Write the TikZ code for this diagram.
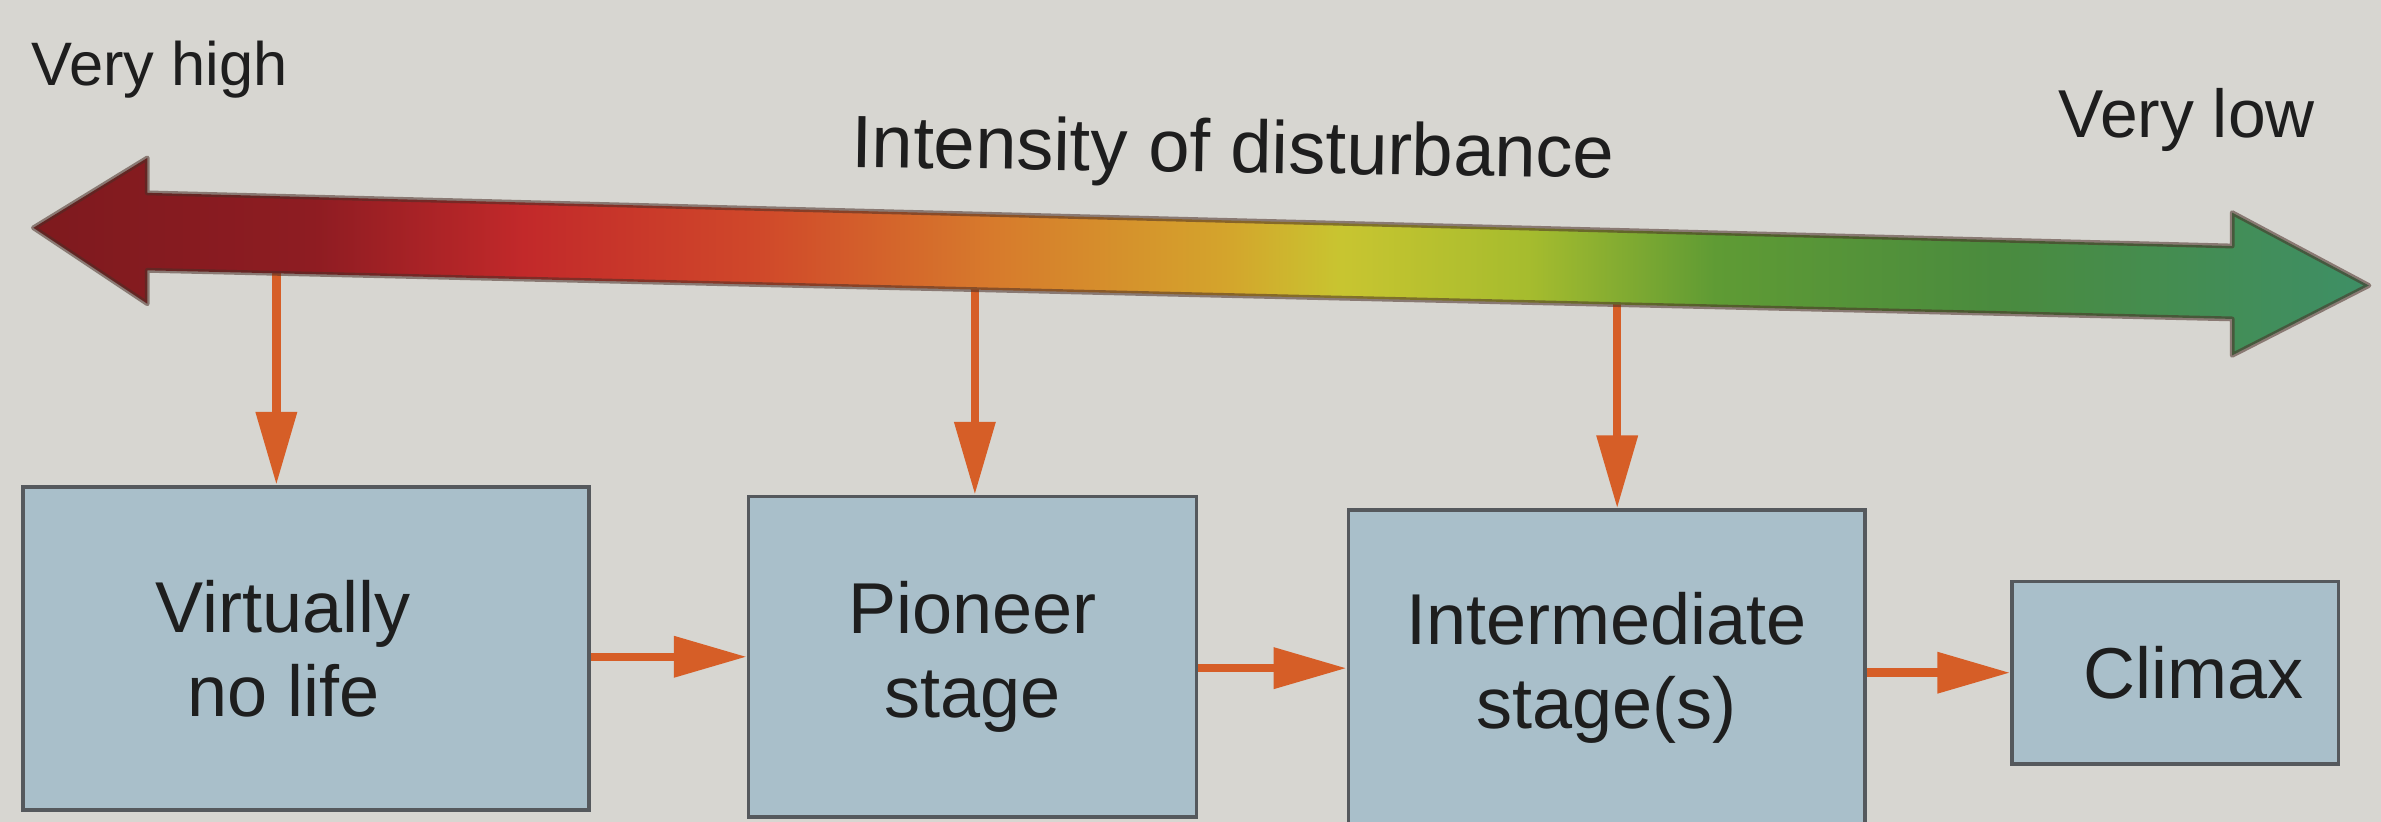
\documentclass[tikz,border=0pt]{standalone}
\usepackage{fontspec}
\setmainfont{Liberation Sans}
\usetikzlibrary{arrows.meta}

\definecolor{paper}{HTML}{D7D6D1}
\definecolor{boxfill}{HTML}{A9BFCA}
\definecolor{boxline}{HTML}{55595D}
\definecolor{link}{HTML}{D65E27}
\definecolor{ink}{HTML}{1E1E1E}
\definecolor{edge}{HTML}{4A2E26}

% colour stops of the disturbance scale (high -> low)
\definecolor{g0}{HTML}{7E1A1E}
\definecolor{g1}{HTML}{8E1C22}
\definecolor{g2}{HTML}{C2292A}
\definecolor{g3}{HTML}{D0482A}
\definecolor{g4}{HTML}{D77A2C}
\definecolor{g5}{HTML}{D4A42C}
\definecolor{g6}{HTML}{C8C530}
\definecolor{g7}{HTML}{A6BC2E}
\definecolor{g8}{HTML}{5F9B34}
\definecolor{g9}{HTML}{4A8B3E}
\definecolor{g10}{HTML}{3E8F66}

% the path's bounding box spans 25bp..75bp of the shading
\pgfdeclarehorizontalshading{disturbance}{100bp}{%
  color(0bp)=(g0); color(25bp)=(g0); color(31bp)=(g1); color(35.5bp)=(g2);
  color(40.5bp)=(g3); color(45.5bp)=(g4); color(50.5bp)=(g5); color(53bp)=(g6);
  color(57bp)=(g7); color(61bp)=(g8); color(67bp)=(g9); color(75bp)=(g10);
  color(100bp)=(g10)}

\tikzset{
  stagebox/.style={draw=boxline, line width=0.7pt, fill=boxfill, text=ink,
    align=center, inner sep=0pt,
    font=\fontsize{13.5}{15.8}\selectfont},
  conn/.style={draw=link, line width=1.6pt,
    -{Triangle[length=4.8mm, width=2.6mm]}},
  scaletext/.style={text=ink, inner sep=0pt}
}

\begin{document}
\begin{tikzpicture}[x=0.1mm, y=-0.1mm]
  % page
  \fill[paper] (0,0) rectangle (1568,541);
  \useasboundingbox (0,0) rectangle (1568,541);

  % labels of the scale
  \node[scaletext, font=\fontsize{11.5}{13}\selectfont] (high) at (105,46) {Very high};
  \node[scaletext, font=\fontsize{12.7}{14}\selectfont] (low) at (1440,79) {Very low};
  \node[scaletext, font=\fontsize{13.9}{16}\selectfont, rotate=-0.8] (title) at (812,101)
    {Intensity of disturbance};

  % succession stages
  \node[stagebox, minimum width=37.3mm, minimum height=21.3mm] (b1) at (201.5,427)
    {\hspace*{-3mm}Virtually\\\hspace*{-3mm}no life};
  \node[stagebox, minimum width=29.5mm, minimum height=21.1mm] (b2) at (640.5,432.5)
    {Pioneer\\stage};
  \node[stagebox, minimum width=34.0mm, minimum height=20.8mm] (b3) at (1058,440)
    {Intermediate\\stage(s)};
  \node[stagebox, minimum width=21.5mm, minimum height=12.0mm] (b4) at (1432.5,443)
    {\hspace*{2.4mm}Climax};

  % points on the underside of the scale arrow
  \coordinate (d1) at (182,178);
  \coordinate (d2) at (642,188);
  \coordinate (d3) at (1065,198);

  % from the scale down to each stage
  \draw[conn] (d1) -- (d1 |- b1.north);
  \draw[conn] (d2) -- (d2 |- b2.north);
  \draw[conn] (d3) -- (d3 |- b3.north);

  % stage to stage
  \draw[conn] (b1.east |- b2.west) -- (b2.west);
  \draw[conn] (b2.east |- b3.west) -- (b3.west);
  \draw[conn] (b3.east |- b4.west) -- (b4.west);

  % double-headed scale arrow with colour gradient
  \shade[shading=disturbance]
    (22,150) -- (97,104) -- (97,127) -- (1470,162) -- (1470,140)
    -- (1560,188) -- (1470,234) -- (1470,210) -- (97,178) -- (97,200) -- cycle;
  \draw[edge, line width=0.9pt, opacity=0.55, line join=round]
    (22,150) -- (97,104) -- (97,127) -- (1470,162) -- (1470,140)
    -- (1560,188) -- (1470,234) -- (1470,210) -- (97,178) -- (97,200) -- cycle;
\end{tikzpicture}
\end{document}
